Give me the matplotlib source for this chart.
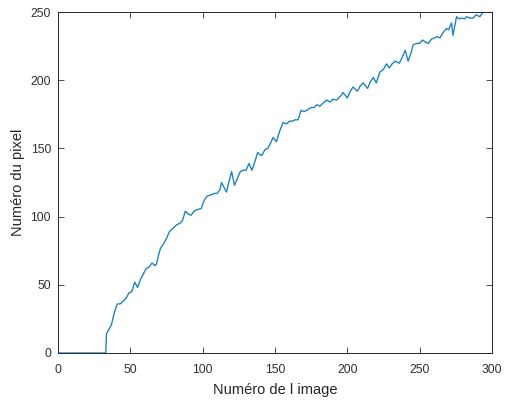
import numpy as np
import matplotlib as mpl
mpl.use('Agg')
import matplotlib.pyplot as plt

plt.rcParams['font.family'] = ['Liberation Sans', 'DejaVu Sans']

# numero de l'image / numero du pixel
image_num = [0, 33, 33.5, 35, 36, 37, 39, 41, 43, 45, 47, 49, 51, 53, 55, 57, 59, 61, 63, 65,
             67, 68, 70, 71, 73, 75, 77, 79, 82, 84, 86, 88, 90, 92, 94, 96, 99, 101, 103, 106,
             108, 110, 112, 113, 115, 116.5, 118, 120, 122, 124, 126, 128, 130, 132, 134, 136,
             138, 140, 141, 143, 145, 147, 148.6, 151, 153, 155.5, 158, 160, 162, 164, 166, 168,
             170, 172, 175, 177, 179, 181, 183, 185.7, 188, 190, 192.6, 195, 197, 200, 202, 204,
             207, 209, 211, 214, 216, 218, 220, 222.5, 225, 227, 229, 231, 233, 236, 238, 240,
             242, 244, 245.5, 248, 250, 252, 254, 256, 258, 260, 262.5, 264, 266, 268.6, 270,
             272, 273, 275.5, 277, 279, 281, 282.4, 285, 287, 289, 291.6, 293.7, 296]
pixel_num = [0, 0, 14, 17, 19, 21, 30, 36, 36, 38, 40, 44, 45, 52, 48, 54, 58, 62, 63, 66,
             64, 65, 74, 77, 80, 84, 89, 91, 94, 95, 97, 104, 102, 101, 104, 105, 106, 112, 115, 116,
             117, 117, 120, 125, 121, 118, 125, 133, 123, 128, 133, 134, 134, 139, 134, 140,
             147, 145, 145, 149, 150, 154, 158, 155, 162, 169, 168, 170, 170, 171, 171, 178,
             177, 178, 180, 180, 182, 181, 183, 185.5, 184, 186, 185.5, 188, 191, 187, 192, 195,
             192, 196, 198, 194, 199, 202, 198, 206, 208, 212, 209, 212, 214, 212.5, 217, 222,
             214, 220, 226, 227, 227, 229.5, 228, 227, 230, 231, 232, 231, 234.6, 238, 237,
             242, 233, 246.6, 245, 245.6, 245, 246.6, 245.5, 245.6, 248, 246.6, 250, 251]

xticks = np.arange(0, 301, 50)
yticks = np.arange(0, 251, 50)


def main():
    fig = plt.figure(figsize=(5.08, 4.03), dpi=100)
    ax = fig.add_axes([0.1142, 0.1241, 0.8543, 0.846])
    ax.plot(image_num, pixel_num, color='#2183c0', linewidth=1.0)

    ax.set_xlim(0, 300)
    ax.set_ylim(0, 250)
    ax.set_xticks(xticks)
    ax.set_yticks(yticks)
    ax.tick_params(direction='in', length=4, width=0.6, top=True, right=True,
                   labelsize=8.7, colors='#303030')
    ax.tick_params(axis='x', pad=8)
    ax.tick_params(axis='y', pad=5)
    for s in ax.spines.values():
        s.set_color('#262626')
        s.set_linewidth(0.7)

    ax.set_xlabel('Numéro de l image', fontsize=10.5, color='#262626', labelpad=5)
    ax.set_ylabel('Numéro du pixel', fontsize=10.5, color='#262626', labelpad=4)

    fig.savefig('out.png', dpi=100)


if __name__ == '__main__':
    main()
